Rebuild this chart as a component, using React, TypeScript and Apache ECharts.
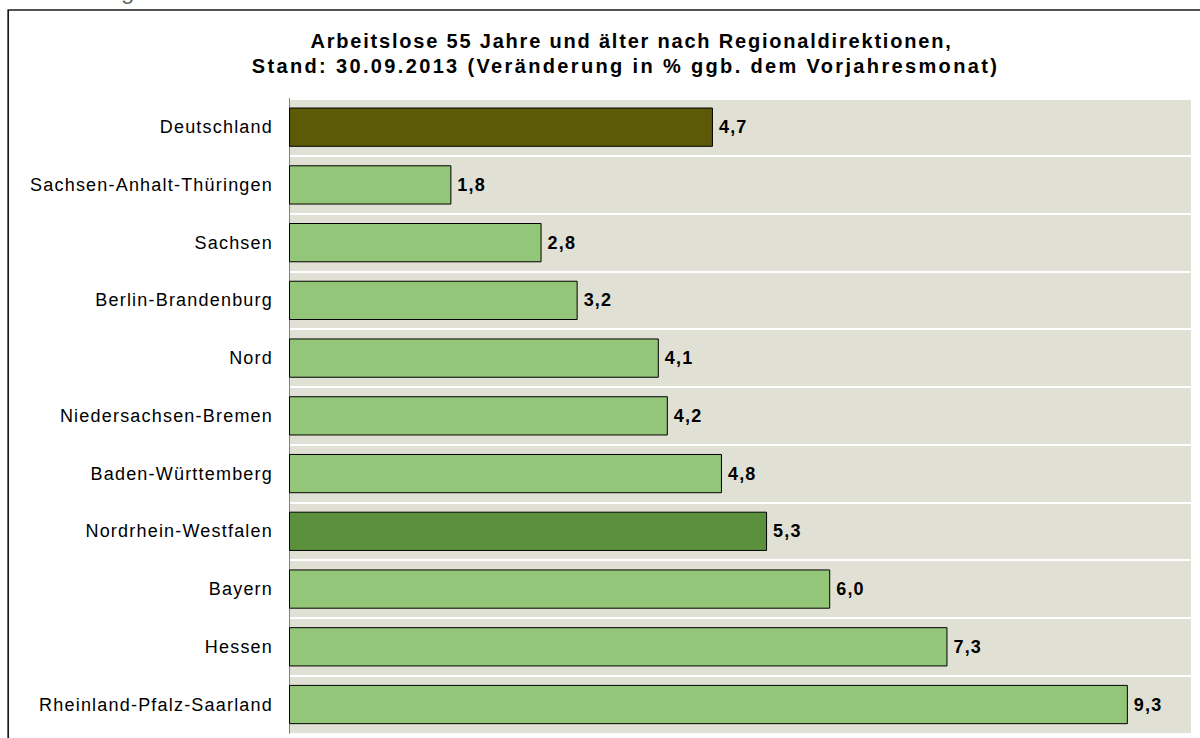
import React, { useEffect, useRef } from "react";
import * as echarts from "echarts";

const categories = [
  "Deutschland",
  "Sachsen-Anhalt-Thüringen",
  "Sachsen",
  "Berlin-Brandenburg",
  "Nord",
  "Niedersachsen-Bremen",
  "Baden-Württemberg",
  "Nordrhein-Westfalen",
  "Bayern",
  "Hessen",
  "Rheinland-Pfalz-Saarland",
];
const values = [4.7, 1.8, 2.8, 3.2, 4.1, 4.2, 4.8, 5.3, 6.0, 7.3, 9.3];
const barColors = [
  "#5C5A06",
  "#93C679",
  "#93C679",
  "#93C679",
  "#93C679",
  "#93C679",
  "#93C679",
  "#5B913D",
  "#93C679",
  "#93C679",
  "#93C679",
];
const titleLines = [
  "Arbeitslose 55 Jahre und älter nach Regionaldirektionen,",
  "Stand: 30.09.2013 (Veränderung in % ggb. dem Vorjahresmonat)",
];

const FONT = "'Liberation Sans', Arial, sans-serif";

export default function App() {
  const ref = useRef<HTMLDivElement>(null);
  useEffect(() => {
    if (!ref.current) return;
    const chart = echarts.init(ref.current, null, { renderer: "svg" });
    const applySpacing = () => {
      if (!ref.current) return;
      ref.current.querySelectorAll("text").forEach((t) => {
        const el = t as SVGTextElement;
        const fs = parseFloat(window.getComputedStyle(el).fontSize || "0");
        const txt = el.textContent || "";
        let sp = 0;
        if (txt.indexOf("Stand:") === 0) sp = 2.35;
        else if (txt.indexOf("Arbeitslose") === 0) sp = 1.8;
        else if (fs >= 17.5 && fs < 19) sp = 1.2;
        el.style.letterSpacing = sp + "px";
      });
    };
    chart.on("finished", applySpacing);
    const titleStyle = {
      fontFamily: FONT,
      fontSize: 20,
      fontWeight: "bold",
      lineHeight: 25,
      color: "#000000",
    };
    chart.setOption({
      animation: false,
      backgroundColor: "#ffffff",
      title: [
        {
          text: titleLines[0],
          left: 626.5,
          top: 23,
          textAlign: "center",
          textStyle: titleStyle,
        },
        {
          text: titleLines[1],
          left: 620.5,
          top: 48,
          textAlign: "center",
          textStyle: titleStyle,
        },
      ],
      grid: {
        left: 289,
        right: 9,
        top: 98.3,
        bottom: 4.6,
        show: true,
        backgroundColor: "#E0E0D4",
        borderWidth: 0,
      },
      xAxis: {
        type: "value",
        min: 0,
        max: 10,
        show: false,
      },
      yAxis: {
        type: "category",
        data: categories,
        inverse: true,
        axisLine: { show: true, lineStyle: { color: "#808080", width: 1 } },
        axisTick: { show: false },
        axisLabel: {
          fontFamily: FONT,
          fontSize: 18,
          color: "#000000",
          margin: 16,
        },
        splitLine: { show: true, lineStyle: { color: "#ffffff", width: 2 } },
      },
      series: [
        {
          type: "bar",
          data: values.map((v, i) => ({
            value: v,
            itemStyle: { color: barColors[i] },
          })),
          barCategoryGap: "32%",
          itemStyle: { borderColor: "#000000", borderWidth: 1 },
          label: {
            show: true,
            position: "right",
            distance: 6,
            fontFamily: FONT,
            fontSize: 18,
            fontWeight: "bold",
            color: "#000000",
            formatter: (p: any) => Number(p.value).toFixed(1).replace(".", ","),
          },
        },
      ],
      graphic: [
        {
          type: "rect",
          shape: { x: 8.2, y: 10, width: 1400, height: 1000 },
          style: { fill: "none", stroke: "#1a1a1a", lineWidth: 1.7 },
          silent: true,
        },
        {
          type: "text",
          x: 121,
          y: -10,
          style: {
            text: "g",
            fontFamily: FONT,
            fontSize: 24,
            fill: "#5f7060",
            verticalAlign: "middle",
          },
          silent: true,
        },
      ],
    });
    applySpacing();
    const raf = requestAnimationFrame(applySpacing);
    const to = setTimeout(applySpacing, 50);
    return () => {
      cancelAnimationFrame(raf);
      clearTimeout(to);
      chart.dispose();
    };
  }, []);
  return (
    <div
      ref={ref}
      style={{ position: "fixed", left: 0, top: 0, width: 1200, height: 738 }}
    />
  );
}
